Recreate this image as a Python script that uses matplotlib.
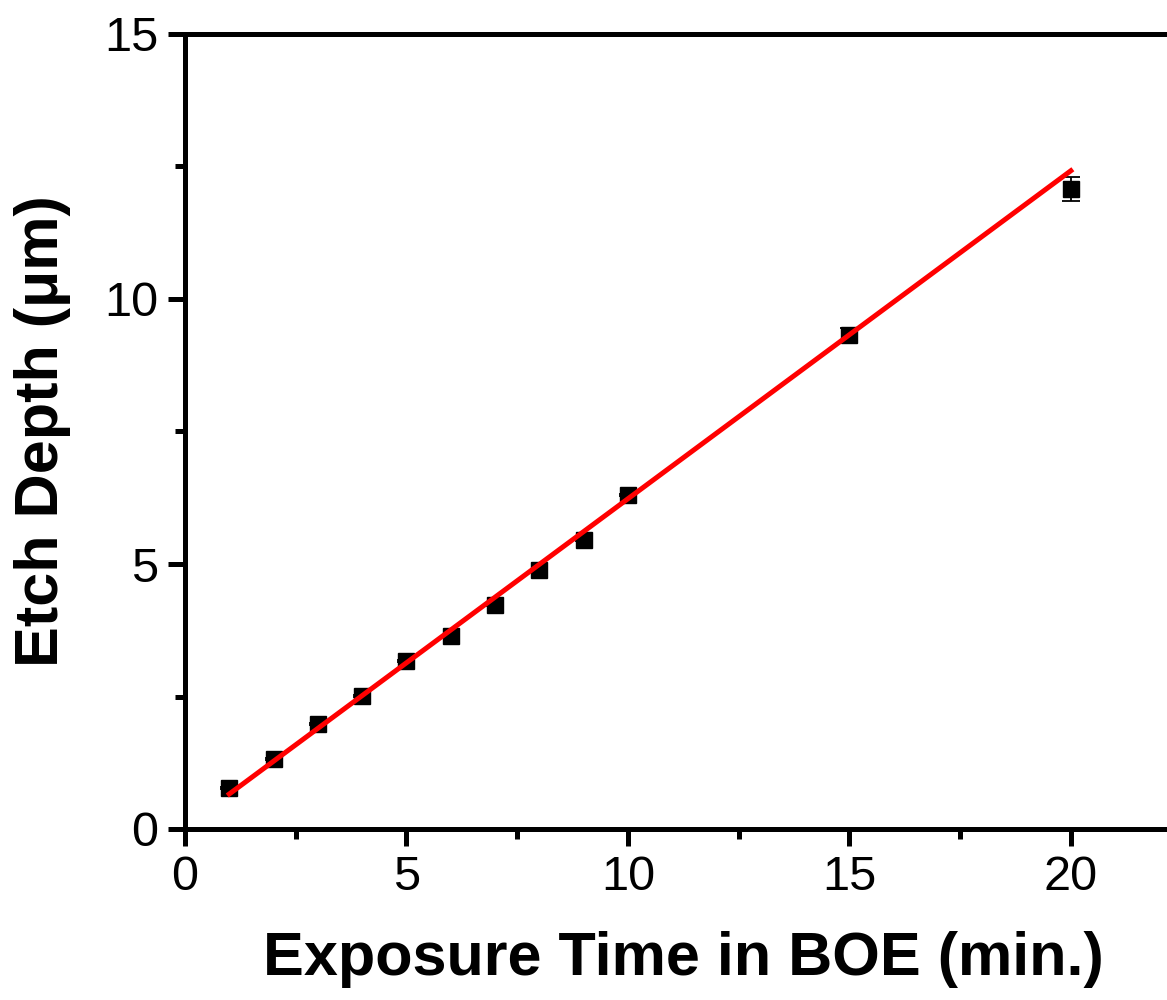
import matplotlib.pyplot as plt
from matplotlib.ticker import MultipleLocator

# exposure time (min) and measured etch depth (um)
time_min = [1, 2, 3, 4, 5, 6, 7, 8, 9, 10, 15, 20]
depth_um = [0.77, 1.32, 1.98, 2.51, 3.17, 3.64, 4.23, 4.89, 5.45, 6.30, 9.32, 12.08]
depth_err = [0.02, 0.02, 0.02, 0.02, 0.02, 0.02, 0.02, 0.02, 0.02, 0.02, 0.13, 0.23]

# linear fit line end points
fit_x = [1, 20]
fit_y = [0.66, 12.42]

plt.rcParams['font.family'] = ['Liberation Sans', 'DejaVu Sans']

fig = plt.figure(figsize=(11.67, 10), dpi=100)
ax = fig.add_axes([0.1585, 0.171, 0.854, 0.795])

ax.errorbar(time_min, depth_um, yerr=depth_err, fmt='s', color='black',
            markersize=11.5, capsize=6.2, elinewidth=1.3, capthick=1.3, zorder=2)
ax.plot(fit_x, fit_y, color='red', linewidth=3.6, zorder=3)

ax.set_xlim(0, 22.5)
ax.set_ylim(0, 15)
ax.xaxis.set_major_locator(MultipleLocator(5))
ax.xaxis.set_minor_locator(MultipleLocator(2.5))
ax.yaxis.set_major_locator(MultipleLocator(5))
ax.yaxis.set_minor_locator(MultipleLocator(2.5))

for side in ['left', 'bottom', 'top', 'right']:
    ax.spines[side].set_linewidth(3.6)
ax.spines['right'].set_visible(False)

ax.tick_params(which='major', direction='out', length=12, width=3.6,
               labelsize=35, pad=7, top=False, right=False)
ax.tick_params(which='minor', direction='out', length=7, width=3.6,
               top=False, right=False)

ax.set_xlabel('Exposure Time in BOE (min.)', fontsize=44, fontweight='bold', labelpad=22)
ax.set_ylabel('Etch Depth (\u03bcm)', fontsize=44, fontweight='bold', labelpad=24)

fig.savefig('out.png', dpi=100)
